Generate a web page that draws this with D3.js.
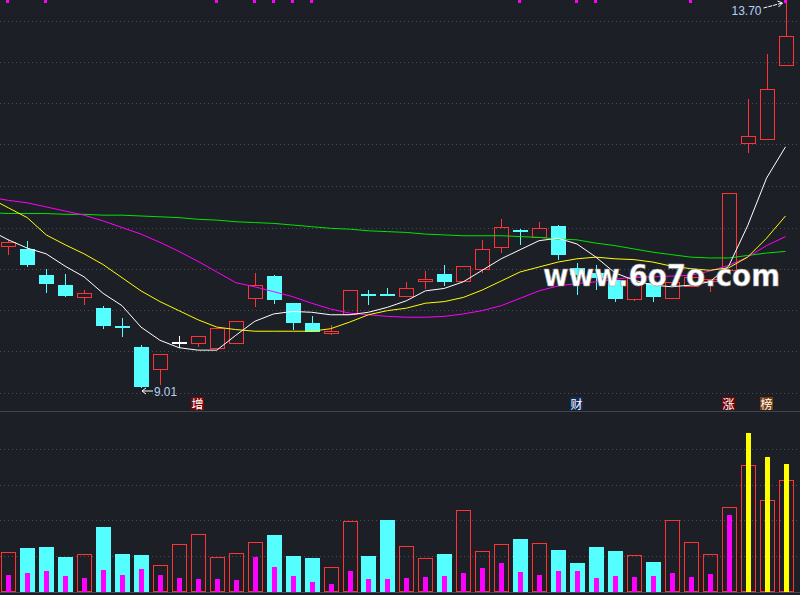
<!DOCTYPE html>
<html>
<head>
<meta charset="utf-8">
<title>k-line</title>
<script src="https://d3js.org/d3.v7.min.js"></script>
<style>
    body { margin: 0; background: #1c1f26; }
    svg { display: block; }
</style>
</head>
<body>
<svg id="chart" width="800" height="595"></svg>
<script>
// daily candles, index 0..41 (left to right)
const open  = [10.73, 10.70, 10.38, 10.26, 10.12, 9.98, 9.76, 9.51, 9.24, 9.57, 9.56, 9.50, 9.56, 10.10, 10.37, 10.04, 9.80, 9.68, 9.91, 10.15, 10.15,
               10.13, 10.31, 10.40, 10.31, 10.45, 10.72, 10.93, 10.85, 10.98, 10.47, 10.41, 10.32, 10.09, 10.28, 10.10, 10.25, 10.31, 10.44, 11.99, 12.04, 12.93];
const close = [10.78, 10.50, 10.27, 10.13, 10.16, 9.76, 9.74, 9.02, 9.42, 9.57, 9.64, 9.74, 9.82, 10.26, 10.08, 9.80, 9.69, 9.70, 10.20, 10.12, 10.13,
               10.22, 10.33, 10.30, 10.49, 10.70, 10.97, 10.92, 10.96, 10.63, 10.38, 10.35, 10.09, 10.36, 10.11, 10.30, 10.36, 10.33, 11.38, 12.07, 12.64, 13.29];
const high  = [10.82, 10.80, 10.46, 10.40, 10.20, 10.01, 9.86, 9.53, 9.42, 9.64, 9.64, 9.74, 9.82, 10.41, 10.38, 10.04, 9.89, 9.78, 10.20, 10.20, 10.22,
               10.30, 10.43, 10.50, 10.49, 10.81, 11.06, 10.94, 11.03, 10.99, 10.53, 10.50, 10.32, 10.36, 10.33, 10.30, 10.36, 10.33, 11.38, 12.52, 13.07, 13.70];
const low   = [10.63, 10.48, 10.17, 10.12, 10.02, 9.73, 9.63, 9.01, 9.05, 9.50, 9.51, 9.50, 9.56, 10.00, 10.03, 9.72, 9.69, 9.65, 9.91, 10.02, 10.13,
               10.12, 10.21, 10.25, 10.31, 10.41, 10.65, 10.75, 10.85, 10.57, 10.14, 10.20, 10.05, 10.07, 10.05, 10.10, 10.25, 10.18, 10.44, 11.87, 12.04, 12.93];

// moving averages, first value belongs to the day before candle 0
const ma5  = [10.93, 10.81, 10.71, 10.64, 10.49, 10.36, 10.16, 10.01, 9.75, 9.59, 9.50, 9.47, 9.47, 9.65, 9.82, 9.91, 9.94, 9.93, 9.90, 9.90, 9.93, 9.99,
              10.07, 10.19, 10.22, 10.30, 10.44, 10.58, 10.69, 10.80, 10.83, 10.76, 10.60, 10.41, 10.32, 10.26, 10.24, 10.26, 10.30, 10.49, 10.98, 11.56, 11.94];
const ma10 = [11.32, 11.20, 11.08, 10.87, 10.75, 10.64, 10.51, 10.35, 10.19, 10.06, 9.95, 9.84, 9.75, 9.72, 9.70, 9.70, 9.70, 9.70, 9.73, 9.81, 9.90, 9.95,
              9.98, 10.04, 10.06, 10.11, 10.20, 10.31, 10.42, 10.48, 10.54, 10.58, 10.60, 10.58, 10.57, 10.54, 10.49, 10.46, 10.44, 10.47, 10.60, 10.83, 11.10];
const ma20 = [11.33, 11.29, 11.26, 11.21, 11.16, 11.11, 11.04, 10.96, 10.88, 10.78, 10.67, 10.55, 10.42, 10.29, 10.24, 10.18, 10.12, 10.04, 9.97, 9.92, 9.90,
              9.88, 9.87, 9.87, 9.88, 9.91, 9.95, 10.01, 10.10, 10.19, 10.25, 10.28, 10.30, 10.33, 10.36, 10.36, 10.37, 10.38, 10.43, 10.50, 10.60, 10.74, 10.85];
const ma60 = [11.14, 11.13, 11.13, 11.13, 11.12, 11.12, 11.11, 11.11, 11.10, 11.09, 11.08, 11.06, 11.05, 11.03, 11.02, 11.01, 10.99, 10.97, 10.95, 10.94, 10.92,
              10.91, 10.90, 10.88, 10.87, 10.86, 10.86, 10.86, 10.85, 10.84, 10.82, 10.81, 10.77, 10.74, 10.70, 10.66, 10.63, 10.60, 10.59, 10.59, 10.62, 10.65, 10.67];

// volume (10k lots) and the inner bar indicator
const volume   = [1.11, 1.23, 1.26, 0.98, 1.05, 1.82, 1.06, 1.03, 0.74, 1.33, 1.61, 0.97, 1.08, 1.39, 1.59, 1.00, 0.95, 0.69, 1.98, 1.00, 2.02,
                  1.28, 0.94, 1.06, 2.29, 1.14, 1.33, 1.48, 1.36, 1.17, 0.81, 1.26, 1.14, 1.02, 0.84, 2.01, 1.39, 1.05, 2.37, 3.56, 2.57, 3.13];
const volInner = [0.47, 0.53, 0.58, 0.44, 0.39, 0.61, 0.47, 0.64, 0.47, 0.39, 0.36, 0.36, 0.33, 0.98, 0.69, 0.44, 0.27, 0.22, 0.58, 0.36, 0.36,
                  0.39, 0.41, 0.44, 0.53, 0.67, 0.81, 0.55, 0.47, 0.58, 0.58, 0.39, 0.44, 0.41, 0.44, 0.53, 0.41, 0.50, 2.16, 4.46, 3.79, 3.59];
const hotDays = [39, 40, 41];

const signalDays = [0, 2, 11, 13, 14, 15, 16, 27, 30, 31, 36, 41];
const badgeDays   = [10, 30, 38, 40];
const badgeText   = ["增", "财", "涨", "榜"];
const badgeColor  = ["#7a0606", "#0d2c58", "#740404", "#7a3c0c"];

const priceGrid = [8.95, 9.46, 9.96, 10.46, 10.96, 11.46, 11.97, 12.47, 12.97, 13.47];
const volGrid = [1, 2, 3, 4];

const RED = "#ff3333", CYAN = "#55ffff";

const svg = d3.select("#chart");
const W = 800;

const x = d3.scaleLinear([0, 41], [8.3, 785.5]);
const y = d3.scaleLinear([9.01, 13.70], [388, 2]);
const yv = d3.scaleLinear([0, 5.07], [591.5, 411]);

const days = d3.range(open.length);
const isUp = i => close[i] > open[i];
const isFlat = i => close[i] === open[i];
const colorOf = i => isFlat(i) ? "#ffffff" : (isUp(i) ? RED : CYAN);
const snap = v => Math.round(v) + 0.5;

svg.append("rect").attr("width", W).attr("height", 595).attr("fill", "#1c1f26");

// dotted grid
svg.append("g").selectAll("line").data(priceGrid).join("line")
    .attr("x1", 0).attr("x2", W)
    .attr("y1", d => snap(y(d))).attr("y2", d => snap(y(d)))
    .attr("stroke", "#4a4f5a").attr("stroke-dasharray", "1,3");
svg.append("g").selectAll("line").data(volGrid).join("line")
    .attr("x1", 0).attr("x2", W)
    .attr("y1", d => snap(yv(d))).attr("y2", d => snap(yv(d)))
    .attr("stroke", "#4a4f5a").attr("stroke-dasharray", "1,3");

// panel borders
svg.append("line").attr("x1", 0).attr("x2", W).attr("y1", 411.5).attr("y2", 411.5).attr("stroke", "#41454f");
svg.append("line").attr("x1", 0).attr("x2", W).attr("y1", 592.5).attr("y2", 592.5).attr("stroke", "#41454f");

// top signal ticks
svg.append("g").selectAll("rect").data(signalDays).join("rect")
    .attr("x", d => Math.round(x(d)) - 2).attr("y", 0)
    .attr("width", 3).attr("height", 3).attr("fill", "#ff00ff");

// candles
const cg = svg.append("g").attr("shape-rendering", "crispEdges");
days.forEach(i => {
    const cx = Math.round(x(i)) + 0.5;
    const c = colorOf(i);
    const top = Math.max(open[i], close[i]), bot = Math.min(open[i], close[i]);
    if (isUp(i)) {
        if (high[i] > top) cg.append("line").attr("x1", cx).attr("x2", cx).attr("y1", y(high[i])).attr("y2", snap(y(top))).attr("stroke", c);
        if (low[i] < bot) cg.append("line").attr("x1", cx).attr("x2", cx).attr("y1", snap(y(bot))).attr("y2", y(low[i])).attr("stroke", c);
        cg.append("rect")
            .attr("x", cx - 7).attr("width", 14)
            .attr("y", snap(y(top))).attr("height", Math.max(1, snap(y(bot)) - snap(y(top))))
            .attr("fill", "none").attr("stroke", c);
    } else {
        cg.append("line").attr("x1", cx).attr("x2", cx).attr("y1", y(high[i])).attr("y2", y(low[i])).attr("stroke", c);
        cg.append("rect")
            .attr("x", cx - 7.5).attr("width", 15)
            .attr("y", Math.round(y(top))).attr("height", Math.max(1.5, y(bot) - y(top)))
            .attr("fill", c);
    }
});

// moving averages
const maLine = d3.line().x((d, k) => x(k - 1)).y(d => y(d));
[[ma60, "#00e400"], [ma20, "#ff00ff"], [ma10, "#ffff00"], [ma5, "#ffffff"]].forEach(([s, col]) => {
    svg.append("path").datum(s).attr("d", maLine)
        .attr("fill", "none").attr("stroke", col).attr("stroke-width", 1);
});

// high / low markers
const hiDay = d3.maxIndex(high), loDay = d3.minIndex(low);
const tag = svg.append("g");
tag.append("line")
    .attr("x1", x(hiDay) - 22).attr("y1", y(high[hiDay]) + 6)
    .attr("x2", x(hiDay) - 3).attr("y2", y(high[hiDay]) + 1)
    .attr("stroke", "#ffffff").attr("stroke-dasharray", "4,1");
tag.append("path")
    .attr("d", `M${x(hiDay) - 8},${y(high[hiDay]) - 1} L${x(hiDay) - 3},${y(high[hiDay]) + 1} L${x(hiDay) - 7},${y(high[hiDay]) + 5}`)
    .attr("fill", "none").attr("stroke", "#ffffff");
tag.append("text")
    .attr("x", x(hiDay) - 24).attr("y", y(high[hiDay]) + 13)
    .attr("text-anchor", "end")
    .attr("font-family", "Liberation Sans, Arial, sans-serif").attr("font-size", 13)
    .attr("textLength", 30).attr("lengthAdjust", "spacingAndGlyphs")
    .attr("fill", "#b6d2f0").text(high[hiDay].toFixed(2));

tag.append("line")
    .attr("x1", x(loDay) + 1).attr("y1", y(low[loDay]) + 3)
    .attr("x2", x(loDay) + 12).attr("y2", y(low[loDay]) + 3)
    .attr("stroke", "#ffffff");
tag.append("path")
    .attr("d", `M${x(loDay) + 5},${y(low[loDay])} L${x(loDay) + 1},${y(low[loDay]) + 3} L${x(loDay) + 5},${y(low[loDay]) + 6}`)
    .attr("fill", "none").attr("stroke", "#ffffff");
tag.append("text")
    .attr("x", x(loDay) + 13).attr("y", y(low[loDay]) + 8)
    .attr("font-family", "Liberation Sans, Arial, sans-serif").attr("font-size", 13)
    .attr("textLength", 23).attr("lengthAdjust", "spacingAndGlyphs")
    .attr("fill", "#b6d2f0").text(low[loDay].toFixed(2));

// event badges
const bg = svg.append("g");
badgeDays.forEach((d, k) => {
    bg.append("rect").attr("x", Math.round(x(d)) - 7).attr("y", 397)
        .attr("width", 13).attr("height", 13).attr("fill", badgeColor[k]);
    bg.append("text").attr("x", Math.round(x(d)) - 0.5).attr("y", 408.5)
        .attr("text-anchor", "middle")
        .attr("font-family", "Noto Sans CJK SC").attr("font-size", 12)
        .attr("fill", "#ffffff").text(badgeText[k]);
});

// volume bars
const vg = svg.append("g").attr("shape-rendering", "crispEdges");
days.forEach(i => {
    const cx = Math.round(x(i)) + 0.5;
    if (isUp(i) || isFlat(i)) {
        vg.append("rect").attr("x", cx - 7).attr("width", 14)
            .attr("y", snap(yv(volume[i]))).attr("height", yv(0) - snap(yv(volume[i])))
            .attr("fill", "none").attr("stroke", RED);
    } else {
        vg.append("rect").attr("x", cx - 7.5).attr("width", 15)
            .attr("y", yv(volume[i])).attr("height", yv(0) - yv(volume[i]))
            .attr("fill", CYAN);
    }
    vg.append("rect").attr("x", cx - 2.5).attr("width", 5)
        .attr("y", yv(volInner[i])).attr("height", yv(0) - yv(volInner[i]))
        .attr("fill", hotDays.includes(i) ? "#ffff00" : "#ff00ff");
});

// watermark
svg.append("text")
    .attr("x", 543).attr("y", 286)
    .attr("font-family", "DejaVu Sans").attr("font-weight", "bold").attr("font-size", 30)
    .attr("textLength", 237).attr("lengthAdjust", "spacingAndGlyphs")
    .attr("fill", "#ffffff").attr("stroke", "#9a9a9a").attr("stroke-width", 0.6)
    .text("www.6o7o.com");
</script>
</body>
</html>
